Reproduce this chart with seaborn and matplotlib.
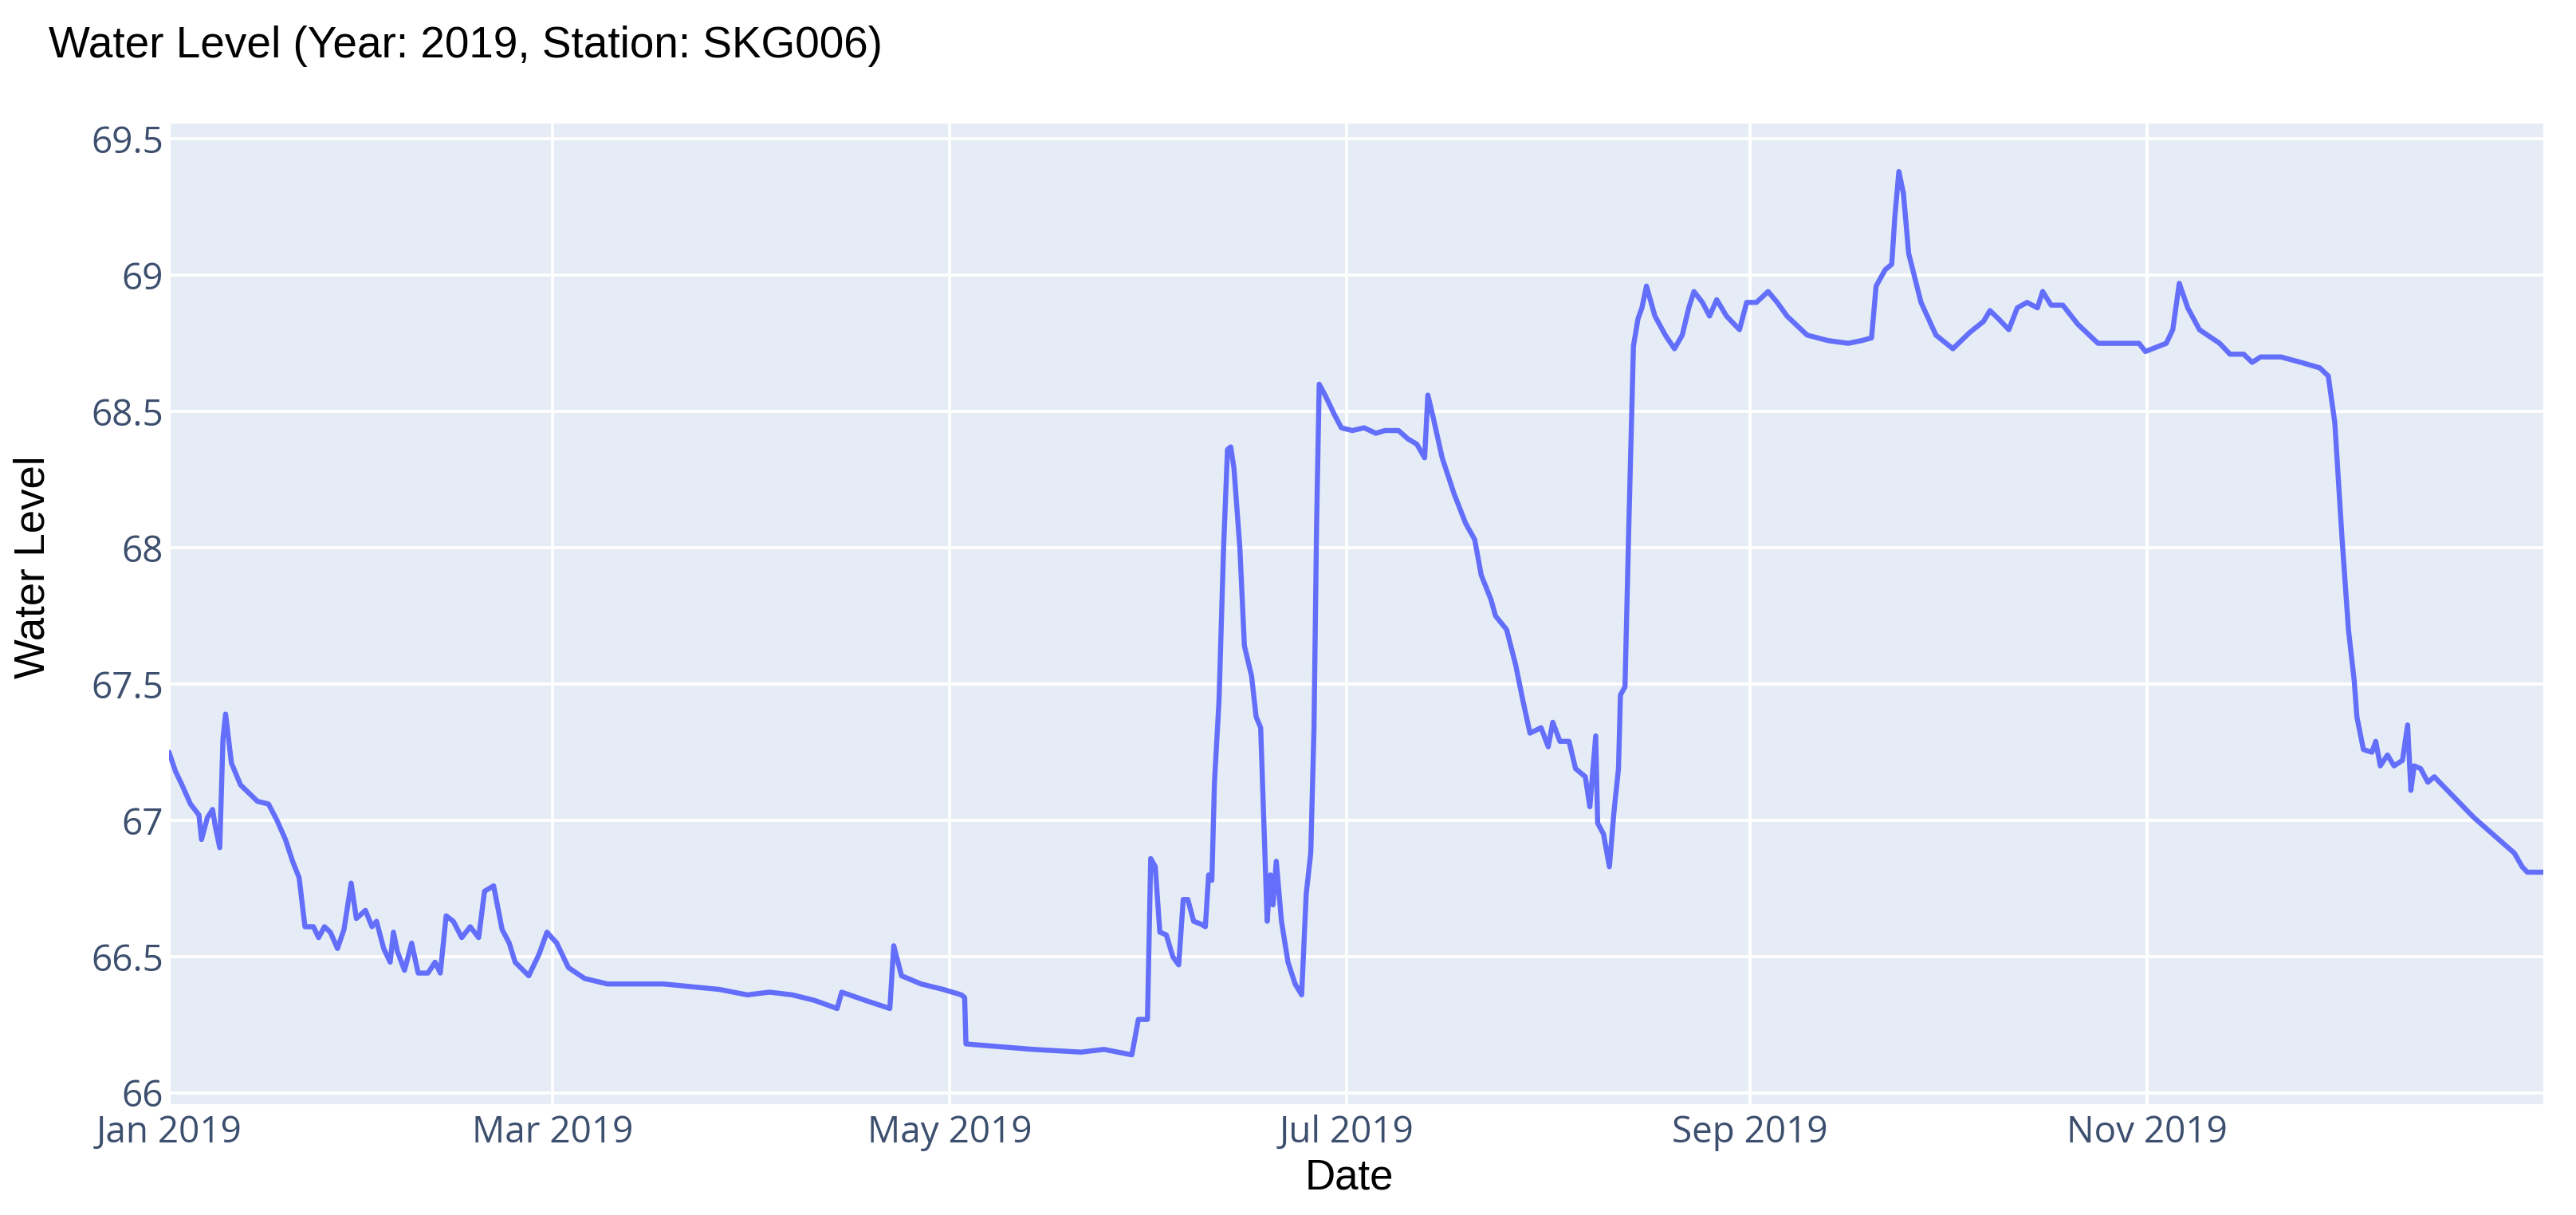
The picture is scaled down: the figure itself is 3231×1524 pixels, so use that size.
import pandas as pd
import matplotlib
matplotlib.use("Agg")
import matplotlib.pyplot as plt
import matplotlib.dates as mdates
import matplotlib.ticker as mticker
import seaborn as sns

# Water level readings (days since 2019-01-01, level)
day_offset = [
    0.0, 1.0, 2.0, 3.3, 4.6, 5.0, 5.9, 6.7, 7.1, 7.8, 8.3, 8.7, 9.6, 11.0, 12.3,
    13.6, 15.3, 16.6, 17.9, 19.0, 20.0, 20.9, 22.2, 23.0, 23.9, 24.8, 25.9, 26.9,
    28.0, 28.8, 30.2, 31.2, 31.9, 33.0, 34.0, 34.5, 35.1, 36.2, 37.3, 38.3, 39.8,
    40.9, 41.7, 42.6, 43.7, 45.0, 46.3, 47.6, 48.5, 49.9, 51.2, 52.3, 53.2, 55.3,
    56.9, 58.1, 59.6, 61.4, 63.9, 67.4, 76.0, 80.3, 84.6, 88.9, 92.3, 95.8, 99.2,
    102.7, 103.4, 107.0, 110.8, 111.4, 112.6, 115.6, 119.0, 121.8, 122.3, 122.5,
    127.6, 132.8, 140.2, 143.7, 148.0, 149.0, 150.4, 150.9, 151.6, 152.3, 153.3,
    154.3, 155.2, 155.9, 156.6, 157.5, 158.6, 159.3, 159.8, 160.3, 160.7, 161.4,
    162.1, 162.7, 163.2, 163.7, 164.6, 165.3, 166.4, 167.1, 167.8, 168.5, 168.8,
    169.3, 169.7, 170.2, 171.0, 172.0, 173.1, 174.1, 174.8, 175.5, 176.0, 176.4,
    176.8, 177.7, 179.1, 180.2, 181.9, 183.7, 185.5, 186.9, 189.0, 190.4, 191.8,
    193.0, 193.5, 194.3, 195.7, 197.5, 199.3, 200.7, 201.7, 203.2, 203.9, 205.6,
    207.0, 208.1, 209.2, 210.9, 212.0, 212.7, 213.8, 215.2, 216.2, 217.7, 218.4,
    219.3, 219.6, 220.5, 221.4, 222.1, 222.8, 223.1, 223.8, 224.4, 225.1, 225.8,
    226.4, 227.1, 228.4, 230.0, 231.4, 232.6, 233.6, 234.4, 235.7, 236.8, 237.9,
    239.4, 241.4, 242.5, 244.0, 245.8, 247.2, 248.7, 251.8, 255.0, 258.1, 260.2,
    261.7, 262.4, 263.8, 264.8, 265.3, 265.9, 266.6, 267.4, 269.3, 271.6, 274.2,
    276.8, 278.9, 279.9, 281.2, 282.8, 284.1, 285.6, 287.2, 288.0, 289.3, 291.1,
    293.4, 296.5, 299.7, 302.8, 303.8, 307.0, 308.0, 309.0, 310.3, 312.1, 315.2,
    316.8, 318.9, 320.2, 321.5, 324.6, 327.7, 330.6, 331.9, 332.9, 334.0, 335.0,
    335.9, 336.3, 337.3, 338.6, 339.2, 339.9, 341.0, 342.0, 343.3, 344.1, 344.6,
    345.1, 346.1, 347.2, 348.2, 349.0, 354.3, 360.5, 361.7, 362.5, 364.95,
]
water_level = [
    67.25, 67.18, 67.13, 67.06, 67.02, 66.93, 67.01, 67.04, 66.98, 66.90, 67.30,
    67.39, 67.21, 67.13, 67.10, 67.07, 67.06, 67.00, 66.93, 66.85, 66.79, 66.61,
    66.61, 66.57, 66.61, 66.59, 66.53, 66.60, 66.77, 66.64, 66.67, 66.61, 66.63,
    66.53, 66.48, 66.59, 66.52, 66.45, 66.55, 66.44, 66.44, 66.48, 66.44, 66.65,
    66.63, 66.57, 66.61, 66.57, 66.74, 66.76, 66.60, 66.55, 66.48, 66.43, 66.51,
    66.59, 66.55, 66.46, 66.42, 66.40, 66.40, 66.39, 66.38, 66.36, 66.37, 66.36,
    66.34, 66.31, 66.37, 66.34, 66.31, 66.54, 66.43, 66.40, 66.38, 66.36, 66.35,
    66.18, 66.17, 66.16, 66.15, 66.16, 66.14, 66.27, 66.27, 66.86, 66.83, 66.59,
    66.58, 66.50, 66.47, 66.71, 66.71, 66.63, 66.62, 66.61, 66.80, 66.78, 67.14,
    67.44, 68.00, 68.36, 68.37, 68.29, 68.00, 67.64, 67.53, 67.38, 67.34, 66.84,
    66.63, 66.80, 66.69, 66.85, 66.63, 66.48, 66.40, 66.36, 66.73, 66.88, 67.34,
    68.09, 68.60, 68.56, 68.49, 68.44, 68.43, 68.44, 68.42, 68.43, 68.43, 68.40,
    68.38, 68.33, 68.56, 68.48, 68.33, 68.20, 68.09, 68.03, 67.90, 67.81, 67.75,
    67.70, 67.57, 67.44, 67.32, 67.34, 67.27, 67.36, 67.29, 67.29, 67.19, 67.16,
    67.05, 67.31, 66.99, 66.95, 66.83, 67.03, 67.19, 67.46, 67.49, 68.09, 68.74,
    68.84, 68.88, 68.96, 68.85, 68.78, 68.73, 68.78, 68.88, 68.94, 68.90, 68.85,
    68.91, 68.85, 68.80, 68.90, 68.90, 68.94, 68.90, 68.85, 68.78, 68.76, 68.75,
    68.76, 68.77, 68.96, 69.02, 69.04, 69.22, 69.38, 69.30, 69.08, 68.90, 68.78,
    68.73, 68.79, 68.83, 68.87, 68.84, 68.80, 68.88, 68.90, 68.88, 68.94, 68.89,
    68.89, 68.82, 68.75, 68.75, 68.75, 68.72, 68.75, 68.80, 68.97, 68.88, 68.80,
    68.75, 68.71, 68.71, 68.68, 68.70, 68.70, 68.68, 68.66, 68.63, 68.46, 68.04,
    67.70, 67.51, 67.38, 67.26, 67.25, 67.29, 67.20, 67.24, 67.20, 67.22, 67.35,
    67.11, 67.20, 67.19, 67.14, 67.16, 67.14, 67.01, 66.88, 66.83, 66.81, 66.81,
]

y_ticks = [66, 66.5, 67, 67.5, 68, 68.5, 69, 69.5]
y_tick_labels = ["66", "66.5", "67", "67.5", "68", "68.5", "69", "69.5"]

df = pd.DataFrame({
    "Date": pd.Timestamp("2019-01-01") + pd.to_timedelta(day_offset, unit="D"),
    "Water Level": water_level,
})

sns.set_theme(style="darkgrid", rc={
    "axes.facecolor": "#E5ECF6",
    "grid.color": "white",
    "grid.linewidth": 2.8,
})
plt.rcParams["font.family"] = ["Liberation Sans", "DejaVu Sans"]

fig = plt.figure(figsize=(32.31, 15.24), dpi=100)
ax = fig.add_axes([0.0656, 0.0912, 0.9217, 0.8071])

sns.lineplot(data=df, x="Date", y="Water Level", color="#636EFA", linewidth=4.6, ax=ax)

ax.set_xlim(df["Date"].iloc[0], df["Date"].iloc[-1])
ax.set_ylim(65.959, 69.556)

ax.xaxis.set_major_locator(mdates.MonthLocator(bymonth=[1, 3, 5, 7, 9, 11]))
ax.xaxis.set_major_formatter(mdates.DateFormatter("%b %Y"))
ax.yaxis.set_major_locator(mticker.FixedLocator(y_ticks))
ax.set_yticklabels(y_tick_labels)

tick_color = "#3d4f6e"
ax.tick_params(axis="x", length=0, pad=9, labelsize=33, labelcolor=tick_color)
ax.tick_params(axis="y", length=0, pad=5, labelsize=33, labelcolor=tick_color)
for lbl in ax.get_xticklabels() + ax.get_yticklabels():
    lbl.set_family(["Open Sans", "DejaVu Sans"])

for s in ax.spines.values():
    s.set_visible(False)

ax.set_xlabel("")
ax.set_ylabel("")

fig.text(61 / 3231, 1 - 72 / 1524, "Water Level (Year: 2019, Station: SKG006)",
         fontsize=39.5, color="black", ha="left", va="baseline")
fig.text(1692 / 3231, 1 - 1478 / 1524, "Date", fontsize=38, color="black",
         ha="center", va="center")
fig.text(42 / 3231, 1 - 711 / 1524, "Water Level", fontsize=38, color="black",
         ha="center", va="center", rotation=90)

fig.savefig("out.png", dpi=100)
